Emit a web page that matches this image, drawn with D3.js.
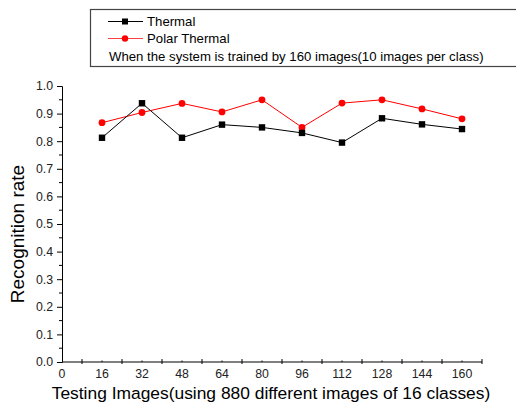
<!DOCTYPE html>
<html>
<head>
<meta charset="utf-8">
<script src="https://cdn.jsdelivr.net/npm/d3@7"></script>
<style>
  body { margin: 0; background: #fff; }
  svg { display: block; font-family: "Liberation Sans", Arial, sans-serif; }
</style>
</head>
<body>
<script>
var testing = [16, 32, 48, 64, 80, 96, 112, 128, 144, 160];
var thermal = [0.8125, 0.9375, 0.8125, 0.86, 0.85, 0.83, 0.795, 0.883, 0.861, 0.844];
var polar = [0.867, 0.904, 0.937, 0.906, 0.95, 0.85, 0.938, 0.95, 0.917, 0.881];
var xLabels = [0, 16, 32, 48, 64, 80, 96, 112, 128, 144, 160];
var xMajor = [8, 24, 40, 56, 72, 88, 104, 120, 136, 152, 168];
var yTicks = [0, 0.1, 0.2, 0.3, 0.4, 0.5, 0.6, 0.7, 0.8, 0.9, 1.0];

var width = 516, height = 402;

var svg = d3.select("body").append("svg")
    .attr("width", width)
    .attr("height", height);

var x = d3.scaleLinear().domain([0, 168]).range([62, 482]);
var y = d3.scaleLinear().domain([0, 1]).range([362, 86]);

// y axis
var yAxis = svg.append("g").attr("transform", "translate(62,0)");
yAxis.call(d3.axisLeft(y).tickValues(yTicks).tickFormat(d3.format(".1f")).tickSize(5).tickPadding(4))
yAxis.select(".domain").attr("stroke", "#000");
yAxis.selectAll("text").attr("font-size", 12.3).attr("fill", "#222");
yAxis.selectAll(".minor")
    .data(d3.range(0.05, 1, 0.1))
    .enter().append("line")
    .attr("x1", -3).attr("x2", 0)
    .attr("y1", d => y(d)).attr("y2", d => y(d))
    .attr("stroke", "#000");

// x axis
var xAxis = svg.append("g").attr("transform", "translate(0,362)");
xAxis.append("line")
    .attr("x1", x(0)).attr("x2", x(168))
    .attr("stroke", "#000");
xAxis.selectAll(".maj")
    .data(xMajor)
    .enter().append("line")
    .attr("x1", d => x(d)).attr("x2", d => x(d))
    .attr("y1", -3).attr("y2", 2)
    .attr("stroke", "#000");
xAxis.selectAll(".mn")
    .data(xLabels.slice(1))
    .enter().append("line")
    .attr("x1", d => x(d)).attr("x2", d => x(d))
    .attr("y1", -1.5).attr("y2", 0)
    .attr("stroke", "#000");
xAxis.selectAll(".lbl")
    .data(xLabels)
    .enter().append("text")
    .attr("x", d => x(d))
    .attr("y", 16)
    .attr("text-anchor", "middle")
    .attr("font-size", 12.3)
    .attr("fill", "#222")
    .text(d => d);

// titles
svg.append("text")
    .attr("transform", "translate(24,234) rotate(-90)")
    .attr("text-anchor", "middle")
    .attr("font-size", 19)
    .text("Recognition rate");
svg.append("text")
    .attr("x", 271)
    .attr("y", 399)
    .attr("text-anchor", "middle")
    .attr("font-size", 17.4)
    .text("Testing Images(using 880 different images of 16 classes)");

// series
var line = d3.line().x((d, i) => x(testing[i])).y(d => y(d));

svg.append("path").datum(polar)
    .attr("d", line).attr("fill", "none").attr("stroke", "#ff0000").attr("stroke-width", 1);
svg.append("path").datum(thermal)
    .attr("d", line).attr("fill", "none").attr("stroke", "#000").attr("stroke-width", 1);

svg.selectAll(".pt")
    .data(polar)
    .enter().append("circle")
    .attr("cx", (d, i) => x(testing[i]))
    .attr("cy", d => y(d))
    .attr("r", 3.4)
    .attr("fill", "#ff0000");

svg.selectAll(".sq")
    .data(thermal)
    .enter().append("rect")
    .attr("x", (d, i) => x(testing[i]) - 3.2)
    .attr("y", d => y(d) - 3.2)
    .attr("width", 6.4)
    .attr("height", 6.4)
    .attr("fill", "#000");

// legend
var leg = svg.append("g");
leg.append("rect")
    .attr("x", 90.5).attr("y", 9.5)
    .attr("width", 430).attr("height", 57)
    .attr("fill", "none").attr("stroke", "#444").attr("stroke-width", 1.2);
leg.append("line").attr("x1", 108).attr("x2", 143).attr("y1", 21.5).attr("y2", 21.5).attr("stroke", "#000");
leg.append("rect").attr("x", 122).attr("y", 18.5).attr("width", 6).attr("height", 6).attr("fill", "#000");
leg.append("text").attr("x", 147).attr("y", 26).attr("font-size", 13.2).text("Thermal");
leg.append("line").attr("x1", 108).attr("x2", 143).attr("y1", 38.5).attr("y2", 38.5).attr("stroke", "#ff4040");
leg.append("circle").attr("cx", 125).attr("cy", 38.5).attr("r", 3.2).attr("fill", "#ff0000");
leg.append("text").attr("x", 147).attr("y", 43).attr("font-size", 13.2).text("Polar Thermal");
leg.append("text").attr("x", 109).attr("y", 60.5).attr("font-size", 13.2)
    .text("When the system is trained by 160 images(10 images per class)");
</script>
</body>
</html>
